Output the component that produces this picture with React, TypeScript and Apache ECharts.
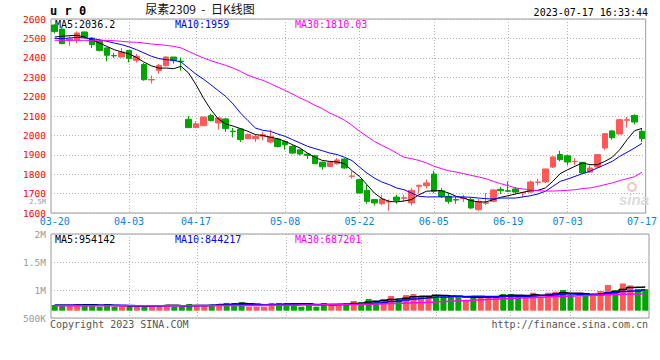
import React, { useEffect, useRef } from 'react';
import * as echarts from 'echarts';

// ---------- data ----------
const dates = [
  '03-20','03-21','03-22','03-23','03-24','03-27','03-28','03-29','03-30','03-31',
  '04-03','04-04','04-06','04-07','04-10','04-11','04-12','04-13','04-14','04-17',
  '04-18','04-19','04-20','04-21','04-24','04-25','04-26','04-27','04-28','05-04',
  '05-05','05-08','05-09','05-10','05-11','05-12','05-15','05-16','05-17','05-18',
  '05-19','05-22','05-23','05-24','05-25','05-26','05-29','05-30','05-31','06-01',
  '06-02','06-05','06-06','06-07','06-08','06-09','06-12','06-13','06-14','06-15',
  '06-16','06-19','06-20','06-21','06-26','06-27','06-28','06-29','06-30','07-03',
  '07-04','07-05','07-06','07-07','07-10','07-11','07-12','07-13','07-14','07-17',
];
const xTickLabels = ['03-20','04-03','04-17','05-08','05-22','06-05','06-19','07-03','07-17'];

const open = [
  2569,2548,2492,2493,2533,2502,2485,2451,2412,2404,
  2438,2387,2365,2286,2335,2359,2404,2383,2083,2040,
  2050,2102,2064,2085,2022,2033,1983,1983,1995,1966,
  1981,1969,1943,1926,1904,1895,1862,1840,1854,1878,
  1789,1772,1717,1669,1648,1657,1682,1676,1652,1738,
  1741,1801,1715,1686,1669,1674,1669,1617,1650,1660,
  1722,1715,1724,1703,1708,1758,1760,1837,1901,1895,
  1865,1861,1811,1837,1935,2023,2007,2078,2103,2021,
];
const close = [
  2535,2473,2497,2528,2507,2468,2438,2413,2410,2430,
  2397,2408,2287,2288,2361,2404,2385,2380,2040,2060,
  2095,2076,2090,2035,2019,1978,2005,1995,2003,1995,
  1943,1952,1909,1904,1897,1854,1838,1862,1873,1832,
  1791,1703,1660,1652,1672,1660,1665,1679,1717,1743,
  1755,1712,1686,1660,1667,1677,1626,1660,1653,1719,
  1715,1712,1708,1706,1760,1760,1827,1889,1875,1863,
  1866,1806,1832,1901,2009,1988,2081,2081,2069,1983,
];
const low = [
  2526,2470,2461,2476,2502,2451,2433,2382,2399,2402,
  2376,2376,2282,2267,2318,2356,2370,2334,2040,2040,
  2050,2072,2030,2018,1990,1966,1980,1966,1974,1960,
  1938,1926,1904,1897,1878,1854,1823,1837,1849,1828,
  1777,1703,1648,1638,1640,1612,1648,1660,1638,1700,
  1727,1703,1678,1648,1648,1657,1621,1612,1640,1655,
  1698,1708,1698,1680,1703,1743,1755,1832,1866,1846,
  1846,1806,1806,1832,1926,1978,2007,2040,2057,1966,
];
const high = [
  2572,2552,2511,2536,2536,2507,2493,2454,2425,2451,
  2440,2420,2373,2309,2368,2408,2404,2402,2100,2073,
  2095,2112,2095,2090,2038,2038,2010,2007,2017,2029,
  1986,1972,1952,1926,1909,1900,1866,1866,1883,1883,
  1815,1772,1746,1672,1694,1669,1694,1694,1729,1746,
  1772,1818,1729,1703,1682,1694,1677,1672,1703,1722,
  1734,1763,1734,1708,1767,1777,1827,1892,1921,1900,
  1883,1863,1846,1901,2009,2026,2086,2095,2108,2035,
];

const ma5 = [
  2507,2511,2514,2516,2507,2493,2476,2459,2442,2430,
  2420,2402,2378,2359,2347,2347,2344,2356,2322,2262,
  2193,2133,2085,2059,2048,2035,2021,2004,2000,1990,
  1983,1969,1952,1935,1909,1887,1871,1866,1863,1854,
  1818,1789,1746,1703,1674,1660,1657,1662,1669,1694,
  1712,1715,1715,1703,1686,1677,1664,1657,1657,1669,
  1681,1689,1698,1707,1715,1717,1729,1763,1803,1823,
  1841,1858,1849,1849,1866,1887,1926,1978,2024,2036.2,
];
const ma10 = [
  2499,2499,2502,2506,2502,2499,2493,2485,2476,2468,
  2456,2442,2425,2408,2396,2390,2387,2378,2347,2316,
  2290,2261,2231,2201,2162,2115,2076,2038,2026,2021,
  2007,1995,1978,1961,1944,1932,1921,1909,1901,1887,
  1870,1837,1806,1780,1760,1746,1729,1720,1703,1686,
  1683,1683,1683,1683,1683,1683,1681,1677,1674,1672,
  1677,1677,1677,1683,1689,1698,1712,1737,1763,1775,
  1789,1803,1815,1832,1849,1866,1892,1913,1935,1959,
];
const ma30 = [
  2490,2490,2490,2490,2490,2490,2490,2490,2488,2485,
  2481,2480,2476,2471,2468,2464,2459,2451,2433,2416,
  2399,2385,2373,2361,2347,2330,2310,2296,2284,2267,
  2249,2232,2213,2193,2176,2155,2138,2115,2098,2078,
  2052,2021,1995,1969,1949,1930,1909,1887,1880,1871,
  1858,1841,1829,1818,1811,1803,1794,1786,1777,1763,
  1751,1741,1729,1724,1719,1715,1713,1713,1715,1717,
  1720,1726,1729,1737,1746,1755,1767,1777,1787,1810.03,
];

const volume = [
  230000,230000,230000,271000,230000,230000,162000,271000,162000,162000,
  162000,162000,230000,230000,230000,230000,162000,162000,271000,230000,
  230000,230000,271000,311000,311000,351000,162000,162000,162000,311000,
  311000,311000,311000,162000,311000,162000,311000,230000,230000,311000,
  391000,351000,472000,391000,472000,593000,432000,633000,674000,593000,
  593000,633000,566000,566000,566000,432000,566000,593000,593000,593000,
  674000,674000,566000,566000,727000,566000,727000,768000,835000,633000,
  566000,633000,593000,795000,1037000,830000,1100000,1020000,880000,870000,
];
const volMa5 = [
  225000,225000,225000,230000,238000,238000,225000,233000,211000,197000,
  184000,184000,176000,189000,203000,216000,216000,203000,211000,211000,
  211000,225000,246000,254000,271000,295000,281000,259000,230000,230000,
  222000,251000,281000,281000,281000,251000,251000,235000,249000,249000,
  295000,303000,351000,383000,415000,456000,472000,504000,561000,585000,
  585000,625000,612000,590000,585000,553000,539000,545000,550000,555000,
  604000,625000,620000,615000,641000,620000,630000,671000,725000,706000,
  706000,687000,652000,644000,725000,771000,860000,940000,948000,954142,
];
const volMa10 = [
  220000,220000,220000,220000,220000,220000,220000,220000,220000,218000,
  211000,205000,205000,200000,200000,200000,200000,190000,200000,207000,
  214000,221000,225000,233000,241000,253000,253000,253000,242000,251000,
  259000,266000,270000,256000,256000,237000,251000,258000,265000,265000,
  273000,277000,293000,316000,332000,376000,388000,428000,472000,500000,
  521000,549000,558000,576000,585000,569000,582000,579000,570000,570000,
  579000,582000,583000,583000,598000,612000,628000,646000,670000,674000,
  663000,659000,662000,685000,716000,739000,774000,796000,796000,844217,
];
const volMa30 = [
  205000,205000,204000,204000,203000,203000,202000,202000,201000,201000,
  200000,200000,199000,200000,200000,201000,201000,202000,202000,203000,
  204000,205000,206000,208000,209000,211000,212000,214000,216000,218000,
  220000,222000,225000,227000,230000,233000,236000,240000,244000,248000,
  252000,257000,263000,270000,278000,287000,297000,308000,320000,333000,
  346000,360000,374000,388000,402000,416000,430000,444000,458000,472000,
  486000,500000,512000,524000,536000,548000,560000,572000,584000,596000,
  606000,616000,626000,636000,646000,655000,664000,672000,680000,687201,
];

const maNames = ['MA5', 'MA10', 'MA30'];
const priceMaLast = ['2036.2', '1959', '1810.03'];
const volMaLast = ['954142', '844217', '687201'];
const titleText = '尿素2309  -  日K线图';
const codeText = 'u r 0';
const timeText = '2023-07-17 16:33:44';
const copyrightText = 'Copyright 2023 SINA.COM';
const urlText = 'http://finance.sina.com.cn';

// ---------- styles ----------
const MONO = '"DejaVu Sans Mono", "Liberation Mono", monospace';
const UP = '#ff5858';
const DOWN = '#00a600';
const MA_COLORS = ['#000000', '#0000ff', '#ff00ff'];
const GRID_LINE = { color: '#b4b4b4', type: [1, 2] as any, width: 1 };
const BORDER = '#9a9a9a';

const isTick = (i: number) => xTickLabels.includes(dates[i]);
const isSplit = (i: number) => isTick(i) && i !== 0 && i !== dates.length - 1;

const volFmt = (v: number) => (v >= 1000000 ? `${v / 1000000}M` : `${v / 1000}K`);

export default function App() {
  const ref = useRef<HTMLDivElement>(null);
  useEffect(() => {
    document.body.style.margin = '0';
    if (!ref.current) return;
    const chart = echarts.init(ref.current, undefined, { renderer: 'svg' });

    const legendTexts = (vals: string[], y: number) =>
      maNames.map((n, k) => ({
        type: 'text',
        x: 55 + k * 120,
        y,
        silent: true,
        style: {
          text: `${n}:${vals[k]}`,
          fill: MA_COLORS[k],
          font: `10px ${MONO}`,
          verticalAlign: 'middle',
        },
      }));

    const yLabel = (color: string, size: number, shift: number, extra: any = {}) => ({
      color, fontFamily: MONO, fontSize: size, lineHeight: size, margin: 5, padding: [0, 0, shift, 0], ...extra,
    });

    const option: any = {
      animation: false,
      backgroundColor: '#ffffff',
      grid: [
        // 0: price panel
        { left: 51, right: 11, top: 19, height: 194, show: true, borderColor: BORDER, borderWidth: 1, backgroundColor: 'transparent' },
        // 1: volume panel frame + labels
        { left: 51, right: 11, top: 234, height: 84, show: true, borderColor: BORDER, borderWidth: 1, backgroundColor: 'transparent' },
        // 2: the 2.5M label above the volume panel
        { left: 51, right: 11, top: 202.2, height: 31.8, show: false },
        // 3: volume bars (baseline above the frame bottom)
        { left: 51, right: 11, top: 234, height: 76.7, show: false },
      ],
      xAxis: [
        {
          type: 'category', gridIndex: 0, data: dates, boundaryGap: true,
          axisLine: { show: false }, axisTick: { show: false },
          axisLabel: { interval: (i: number) => isTick(i), color: '#0a82e6', fontFamily: MONO, fontSize: 10, margin: 3 },
          splitLine: { show: true, interval: (i: number) => isSplit(i), alignWithLabel: true, lineStyle: GRID_LINE },
        },
        {
          type: 'category', gridIndex: 1, data: dates, boundaryGap: true,
          axisLine: { show: false }, axisTick: { show: false }, axisLabel: { show: false },
          splitLine: { show: true, interval: (i: number) => isSplit(i), alignWithLabel: true, lineStyle: GRID_LINE },
        },
        { type: 'category', gridIndex: 2, data: dates, show: false },
        { type: 'category', gridIndex: 3, data: dates, show: false, boundaryGap: true },
      ],
      yAxis: [
        {
          type: 'value', gridIndex: 0, min: 1600, max: 2600, interval: 100,
          axisLine: { show: false }, axisTick: { show: false },
          axisLabel: yLabel('#ff0000', 9.5, 2, { formatter: (v: number) => String(v) }),
          splitLine: { show: true, lineStyle: GRID_LINE },
        },
        {
          type: 'value', gridIndex: 1, min: 500000, max: 2000000, interval: 500000,
          axisLine: { show: false }, axisTick: { show: false },
          axisLabel: yLabel('#9a9a9a', 9.5, 7, { formatter: volFmt }),
          splitLine: { show: true, lineStyle: GRID_LINE },
        },
        {
          type: 'value', gridIndex: 2, min: 2000000, max: 2500000, interval: 500000,
          axisLine: { show: false }, axisTick: { show: false }, splitLine: { show: false },
          axisLabel: yLabel('#9a9a9a', 7, 0, { formatter: volFmt, showMinLabel: false }),
        },
        { type: 'value', gridIndex: 3, min: 0, max: 3100000, show: false, splitLine: { show: false } },
      ],
      series: [
        {
          type: 'candlestick', xAxisIndex: 0, yAxisIndex: 0, barWidth: 6,
          data: dates.map((_, i) => [open[i], close[i], low[i], high[i]]),
          itemStyle: { color: UP, color0: DOWN, borderColor: UP, borderColor0: DOWN, borderWidth: 1 },
        },
        ...[ma5, ma10, ma30].map((d, k) => ({
          type: 'line', name: maNames[k], xAxisIndex: 0, yAxisIndex: 0, data: d,
          showSymbol: false, symbol: 'none', lineStyle: { color: MA_COLORS[k], width: 1 }, silent: true,
        })),
        {
          type: 'bar', xAxisIndex: 3, yAxisIndex: 3, barWidth: 6,
          data: volume.map((v, i) => ({ value: v, itemStyle: { color: close[i] >= open[i] ? UP : DOWN } })),
        },
        ...[volMa5, volMa10, volMa30].map((d, k) => ({
          type: 'line', xAxisIndex: 3, yAxisIndex: 3, data: d, step: 'middle',
          showSymbol: false, symbol: 'none', lineStyle: { color: MA_COLORS[k], width: 1.5 }, silent: true,
        })),
      ],
      graphic: [
        { type: 'text', x: 50, y: 11, silent: true, style: { text: codeText, font: `bold 12px ${MONO}`, fill: '#000', verticalAlign: 'middle' } },
        { type: 'text', x: 200, y: 8, silent: true, style: { text: titleText, font: '12px "Noto Sans CJK SC", sans-serif', fill: '#111', align: 'center', verticalAlign: 'middle' } },
        { type: 'text', x: 648, y: 12, silent: true, style: { text: timeText, font: `10px ${MONO}`, fill: '#000', align: 'right', verticalAlign: 'middle' } },
        ...legendTexts(priceMaLast, 24),
        ...legendTexts(volMaLast, 239),
        { type: 'text', x: 50, y: 324, silent: true, style: { text: copyrightText, font: `10px ${MONO}`, fill: '#555', verticalAlign: 'middle' } },
        { type: 'text', x: 648, y: 324, silent: true, style: { text: urlText, font: `10px ${MONO}`, fill: '#555', align: 'right', verticalAlign: 'middle' } },
        { type: 'circle', x: 632, y: 187, silent: true, shape: { r: 4 }, style: { fill: 'none', stroke: '#f3c4c4', lineWidth: 2 } },
        { type: 'text', x: 634, y: 199, silent: true, style: { text: 'sina', font: 'italic bold 15px sans-serif', fill: '#dcdcdc', align: 'center', verticalAlign: 'middle' } },
      ],
    };
    chart.setOption(option);
    return () => chart.dispose();
  }, []);
  return <div ref={ref} style={{ width: 660, height: 360 }} />;
}
